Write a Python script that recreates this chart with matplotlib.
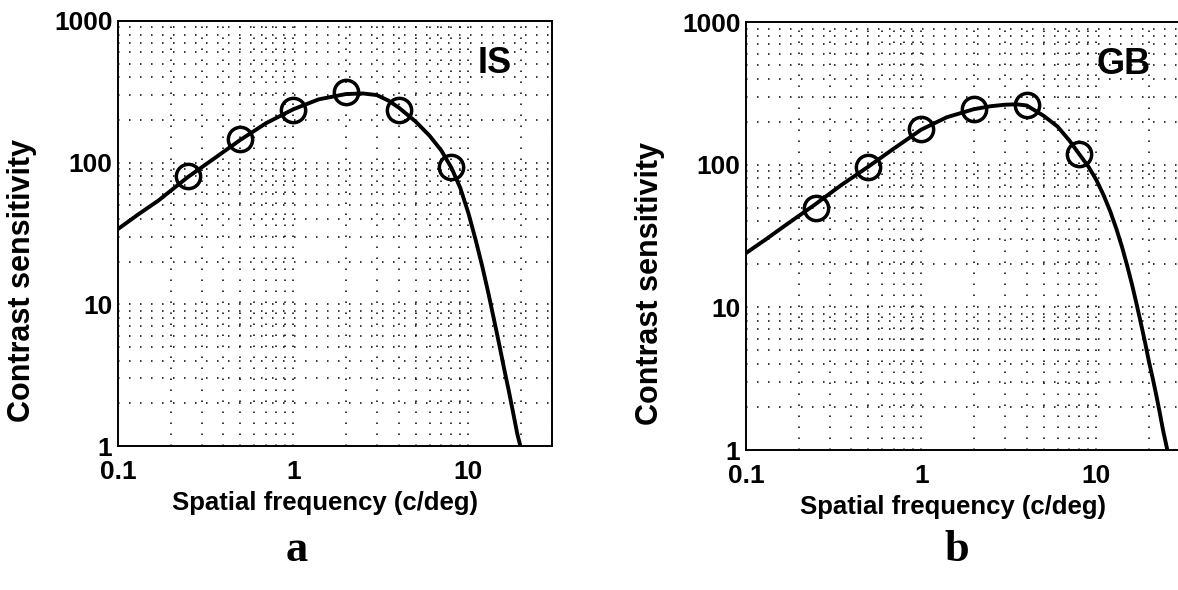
import matplotlib
matplotlib.use("Agg")
import matplotlib.pyplot as plt
from matplotlib.ticker import LogLocator, NullFormatter

plt.rcParams['font.family'] = ['Liberation Sans', 'DejaVu Sans']

# measured points (spatial frequency in c/deg)
freq = [0.25, 0.5, 1, 2, 4, 8]
sens_is = [80, 148, 235, 315, 235, 93]
sens_gb = [50, 96, 179, 247, 261, 118]

# fitted curves
fit_x_is = [0.1, 0.13, 0.17, 0.25, 0.35, 0.5, 0.7, 1, 1.4, 2, 2.5, 3, 3.5, 4,
            5, 6, 7, 8, 9, 10, 11, 12, 13, 14, 15, 16, 17, 18, 19, 19.8]
fit_y_is = [34, 43, 54, 79, 106, 145, 190, 238, 280, 305, 308, 300, 274, 245,
            195, 155, 122, 92, 66, 44, 28.5, 18.5, 12, 7.8, 5.2, 3.5, 2.45, 1.72, 1.22, 1.0]

fit_x_gb = [0.1, 0.13, 0.17, 0.25, 0.35, 0.5, 0.7, 1, 1.4, 2, 2.5, 3, 3.5, 4,
            5, 6, 7, 8, 9, 10, 11, 12, 13, 14, 15, 16, 17, 18, 19, 20,
            21, 22, 23, 24, 25.4]
fit_y_gb = [24, 30, 38, 53, 72, 97, 130, 176, 215, 245, 257, 263, 265, 260,
            220, 185, 148, 118, 97, 78, 61, 47, 35.5, 26.5, 19.5, 14.3, 10.4, 7.6, 5.6, 4.1,
            3.15, 2.4, 1.82, 1.38, 1.0]

xticks = [0.1, 1, 10]
xticklabels = ['0.1', '1', '10']
yticks = [1, 10, 100, 1000]
yticklabels = ['1', '10', '100', '1000']

W, H = 1178, 590
fig = plt.figure(figsize=(W / 100, H / 100), dpi=100)
ax_a = fig.add_axes([118 / W, (H - 446) / H, 434 / W, 425 / H])
ax_b = fig.add_axes([746 / W, (H - 450) / H, 434 / W, 428 / H])


def draw(ax, fx, fy, sx, sy, name):
    ax.set_xscale('log')
    ax.set_yscale('log')
    ax.set_xlim(0.1, 30)
    ax.set_ylim(1, 1000)
    ax.xaxis.set_minor_locator(LogLocator(base=10, subs=range(2, 10)))
    ax.yaxis.set_minor_locator(LogLocator(base=10, subs=range(2, 10)))
    ax.xaxis.set_minor_formatter(NullFormatter())
    ax.yaxis.set_minor_formatter(NullFormatter())
    ax.set_xticks(xticks)
    ax.set_xticklabels(xticklabels)
    ax.set_yticks(yticks)
    ax.set_yticklabels(yticklabels)
    ax.grid(True, which='both', color='black', linestyle=(0, (1, 6.2)), linewidth=1.1)
    ax.tick_params(which='both', direction='in', length=0, labelsize=19, colors='black')
    ax.tick_params(axis='x', pad=10)
    ax.tick_params(axis='y', pad=4)
    for lab in ax.get_xticklabels() + ax.get_yticklabels():
        lab.set_fontweight('bold')
    for sp in ax.spines.values():
        sp.set_linewidth(1.4)
    ax.plot(fx, fy, color='black', linewidth=2.8, zorder=3)
    ax.plot(sx, sy, linestyle='none', marker='o', markersize=17.5, markerfacecolor='none',
            markeredgecolor='black', markeredgewidth=2.5, zorder=4)
    ax.text(14.2, 500, name, fontsize=26, fontweight='bold', ha='center', va='center')
    ax.set_xlabel('Spatial frequency (c/deg)', fontsize=18.5, fontweight='bold')
    ax.set_ylabel('Contrast sensitivity', fontsize=22, fontweight='bold')
    ax.xaxis.set_label_coords(0.477, -0.106)
    ax.yaxis.set_label_coords(-0.186, 0.39)


draw(ax_a, fit_x_is, fit_y_is, freq, sens_is, 'IS')
draw(ax_b, fit_x_gb, fit_y_gb, freq, sens_gb, 'GB')

fig.text(297 / W, 1 - 550 / H, 'a', fontsize=32, fontweight='bold',
         family='Liberation Serif', ha='center', va='center')
fig.text(957 / W, 1 - 550 / H, 'b', fontsize=32, fontweight='bold',
         family='Liberation Serif', ha='center', va='center')

fig.savefig('out.png', dpi=100)
